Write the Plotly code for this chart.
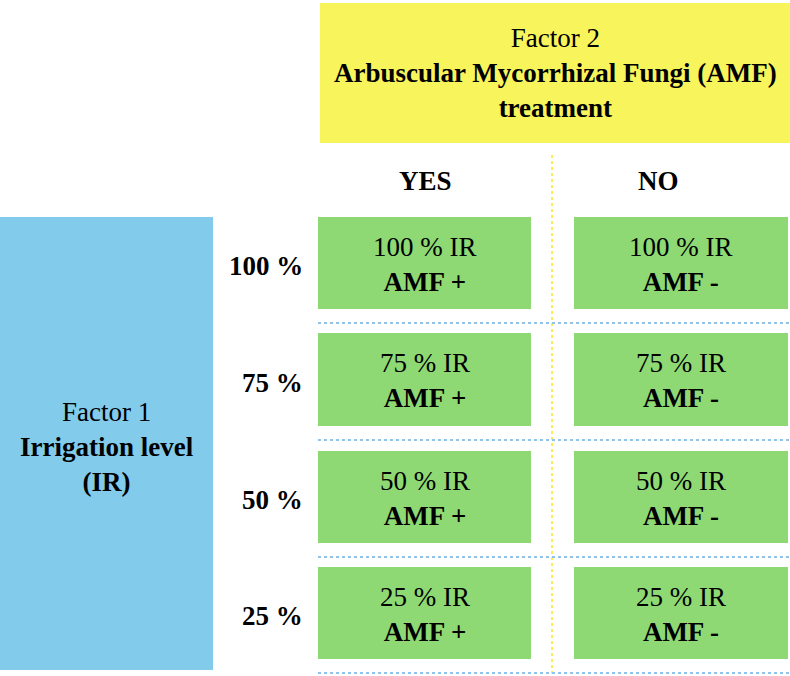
import plotly.graph_objects as go

# Experimental design: 4 irrigation levels x 2 AMF treatments
irrigation_levels = ['100 %', '75 %', '50 %', '25 %']
amf_treatments = ['YES', 'NO']
amf_signs = ['+', '-']
factor1_title = ['Factor 1', 'Irrigation level', '(IR)']
factor2_title = ['Factor 2', 'Arbuscular Mycorrhizal Fungi (AMF)', 'treatment']

###########################################################
# Layout geometry (page pixels, y downwards)
###########################################################
W, H = 790, 676
col_edges = [(318, 531), (574, 788)]
row_edges = [(217, 309), (333, 426), (451, 543), (567, 659)]
header_x = [425, 658]
header_y = 181
sep_y = [323, 440, 557, 673]
vsep_x = 552
yellow_box = (320, 3, 790, 143)
blue_box = (0, 217, 213, 670)

GREEN = '#8ED973'
BLUE = '#83CBEB'
YELLOW = '#F8F45C'
FONT = 'Liberation Serif, Times New Roman, serif'

fig = go.Figure()
shapes = []
annotations = []

# Factor boxes
x0, y0, x1, y1 = yellow_box
shapes.append(dict(type='rect', x0=x0, y0=y0, x1=x1, y1=y1, fillcolor=YELLOW, line_width=0, layer='below'))
annotations.append(dict(x=(x0 + x1) / 2, y=(y0 + y1) / 2,
                        text=factor2_title[0] + '<br><b>' + factor2_title[1] + '</b><br><b>' + factor2_title[2] + '</b>'))

x0, y0, x1, y1 = blue_box
shapes.append(dict(type='rect', x0=x0, y0=y0, x1=x1, y1=y1, fillcolor=BLUE, line_width=0, layer='below'))
annotations.append(dict(x=(x0 + x1) / 2, y=447,
                        text=factor1_title[0] + '<br><b>' + factor1_title[1] + '</b><br><b>' + factor1_title[2] + '</b>'))

# Separators
shapes.append(dict(type='line', x0=vsep_x, x1=vsep_x, y0=155, y1=H,
                   line=dict(color='#FFE51A', width=1.5, dash='dot'), layer='below'))
for y in sep_y:
    shapes.append(dict(type='line', x0=318, x1=W, y0=y, y1=y,
                       line=dict(color='#8FC3EA', width=2, dash='dot'), layer='below'))

# Column headers
for name, hx in zip(amf_treatments, header_x):
    annotations.append(dict(x=hx, y=header_y, text='<b>' + name + '</b>'))

# Treatment cells
for level, (r0, r1) in zip(irrigation_levels, row_edges):
    annotations.append(dict(x=305, y=(r0 + r1) / 2 + 3, text='<b>' + level + '</b>', xanchor='right'))
    for sign, (c0, c1) in zip(amf_signs, col_edges):
        shapes.append(dict(type='rect', x0=c0, x1=c1, y0=r0, y1=r1, fillcolor=GREEN, line_width=0, layer='below'))
        annotations.append(dict(x=(c0 + c1) / 2, y=(r0 + r1) / 2 + 1,
                                text=level + ' IR<br><b>AMF ' + sign + '</b>'))

for a in annotations:
    a.setdefault('xanchor', 'center')
    a.update(xref='x', yref='y', yanchor='middle', showarrow=False,
             font=dict(family=FONT, size=27, color='black'))

fig.update_layout(
    width=W,
    height=H,
    margin=dict(l=0, r=0, t=0, b=0),
    paper_bgcolor='white',
    plot_bgcolor='white',
    shapes=shapes,
    annotations=annotations,
    showlegend=False,
    xaxis=dict(range=[0, W], visible=False, fixedrange=True),
    yaxis=dict(range=[H, 0], visible=False, fixedrange=True),
)

# drop the default page margin so the figure sits at the window origin
fig.write_html('out.html', config={'displayModeBar': False},
               post_script="document.body.style.margin='0';")
